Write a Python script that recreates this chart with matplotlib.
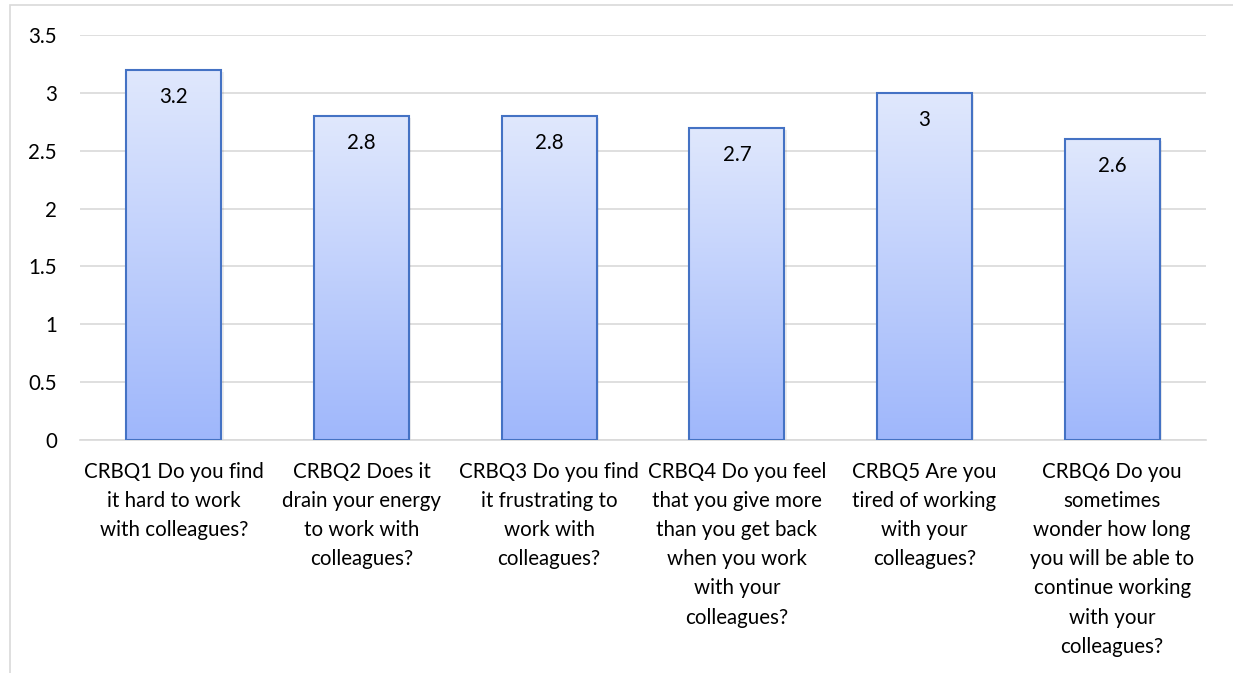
import numpy as np
import matplotlib
matplotlib.use("Agg")
import matplotlib.pyplot as plt
from matplotlib.patches import Rectangle
from matplotlib.colors import LinearSegmentedColormap

plt.rcParams['font.family'] = ['Lato', 'DejaVu Sans']

categories = [
    "CRBQ1 Do you find\nit hard to work\nwith colleagues?",
    "CRBQ2 Does it\ndrain your energy\nto work with\ncolleagues?",
    "CRBQ3 Do you find\nit frustrating to\nwork with\ncolleagues?",
    "CRBQ4 Do you feel\nthat you give more\nthan you get back\nwhen you work\nwith your\ncolleagues?",
    "CRBQ5 Are you\ntired of working\nwith your\ncolleagues?",
    "CRBQ6 Do you\nsometimes\nwonder how long\nyou will be able to\ncontinue working\nwith your\ncolleagues?",
]
values = [3.2, 2.8, 2.8, 2.7, 3.0, 2.6]
value_labels = ["3.2", "2.8", "2.8", "2.7", "3", "2.6"]
yticks = [0, 0.5, 1, 1.5, 2, 2.5, 3, 3.5]
ytick_labels = ["0", "0.5", "1", "1.5", "2", "2.5", "3", "3.5"]

FS = 14.8
LINE_STEP_PX = 29.2   # distance between label baselines

W, H = 1233, 673
fig = plt.figure(figsize=(W / 100, H / 100), dpi=100)
fig.patch.set_facecolor("white")
renderer = fig.canvas.get_renderer()


def line_step(ls):
    """Pixel distance between baselines for a given linespacing."""
    t1 = fig.text(0, 0, "Ag", fontsize=FS, linespacing=ls)
    t2 = fig.text(0, 0, "Ag\nAg", fontsize=FS, linespacing=ls)
    h = t2.get_window_extent(renderer).height - t1.get_window_extent(renderer).height
    t1.remove()
    t2.remove()
    return h


s1, s2 = line_step(1.2), line_step(2.2)
label_ls = 1.2 + (LINE_STEP_PX - s1) * (2.2 - 1.2) / (s2 - s1)

# chart-area border
fig.add_artist(Rectangle((10 / W, -0.1), 1.2, (H - 5) / H + 0.1,
                         transform=fig.transFigure, fill=False,
                         edgecolor="#d9d9d9", linewidth=1.2))

ax = fig.add_axes([80 / W, 1 - 440 / H, (1206 - 80) / W, (440 - 35) / H])
ax.set_xlim(-0.5, len(values) - 0.5)
ax.set_ylim(0, 3.5)

for s in ["top", "right", "left"]:
    ax.spines[s].set_visible(False)
ax.spines["bottom"].set_color("#d9d9d9")
ax.spines["bottom"].set_linewidth(1.2)

ax.set_yticks(yticks)
ax.set_yticklabels(ytick_labels, fontsize=FS, color="#000000")
ax.yaxis.grid(True, color="#d9d9d9", linewidth=1.2)
ax.set_axisbelow(True)
ax.tick_params(axis="y", length=0, pad=16.5)
ax.tick_params(axis="x", length=0, pad=15.5)

x = np.arange(len(values))
ax.set_xticks(x)
ax.set_xticklabels(categories, fontsize=FS, linespacing=label_ls,
                   ha="center", va="top")

cmap = LinearSegmentedColormap.from_list("barfill", ["#9fb7fb", "#e0e8fd"])
grad = np.linspace(0, 1, 256).reshape(-1, 1)
width = 0.506

bars = ax.bar(x, values, width=width, color="none", edgecolor="#4472c4",
              linewidth=1.5, zorder=3)
for b, v, lab in zip(bars, values, value_labels):
    x0 = b.get_x()
    # soft shadow
    ax.add_patch(Rectangle((x0 + 0.006, -0.02), width + 0.006, v,
                           facecolor="#000000", alpha=0.07,
                           edgecolor="none", zorder=2))
    im = ax.imshow(grad, cmap=cmap, origin="lower", aspect="auto",
                   extent=(x0, x0 + width, 0, v), zorder=2.5)
    im.set_clip_path(b)
    ax.text(b.get_x() + width / 2, v - 0.235, lab, ha="center", va="center",
            fontsize=FS, color="#000000", zorder=4)

ax.set_xlim(-0.5, len(values) - 0.5)
ax.set_ylim(0, 3.5)

fig.savefig("out.png", dpi=100, facecolor="white")
